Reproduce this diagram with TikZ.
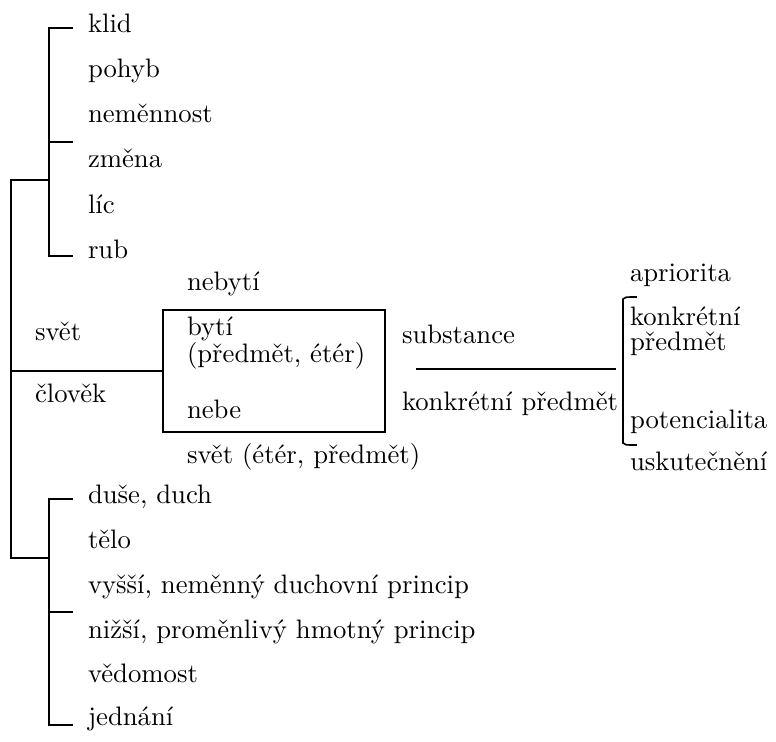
\documentclass[tikz,border=0pt]{standalone}
\usepackage{fontspec}
\begin{document}
\begin{tikzpicture}[x=0.3745pt,y=-0.3745pt,line width=0.6pt,
  lbl/.style={anchor=base west,inner sep=0pt,outer sep=0pt,font=\fontsize{10}{12}\selectfont},
  ln/.style={line width=0.6pt,line cap=rect},
  boxnode/.style={draw,line width=0.6pt,minimum width=83.14pt,minimum height=45.69pt,inner sep=0pt}]
\useasboundingbox (0,0) rectangle (776,741);
% top group
\node[lbl] (klid) at (88,32) {klid};
\node[lbl] (pohyb) at (88,77) {pohyb};
\node[lbl] (nemennost) at (88,122) {neměnnost};
\node[lbl] (zmena) at (88,167) {změna};
\node[lbl] (lic) at (88,213) {líc};
\node[lbl] (rub) at (88,258) {rub};
% middle
\node[lbl] (nebyti) at (187,290) {nebytí};
\node[boxnode] (box) at (274,371) {};
\node[lbl] (byti) at (187,335) {bytí};
\node[lbl] (predmeteter) at (187,362) {(předmět, étér)};
\node[lbl] (nebe) at (187,418) {nebe};
\node[lbl] (svetetor) at (187,463) {svět (étér, předmět)};
\node[lbl] (svet) at (35,340) {svět};
\node[lbl] (clovek) at (35,402) {člověk};
% right
\node[lbl] (substance) at (402,343) {substance};
\node[lbl] (konkpred) at (402,410) {konkrétní předmět};
\node[lbl] (apriorita) at (630,281) {apriorita};
\node[lbl] (konkretni) at (630,325) {konkrétní};
\node[lbl] (predmet) at (630,350) {předmět};
\node[lbl] (potencialita) at (630,428) {potencialita};
\node[lbl] (uskutecneni) at (630,470) {uskutečnění};
% bottom group
\node[lbl] (duse) at (88,503) {duše, duch};
\node[lbl] (telo) at (88,548) {tělo};
\node[lbl] (vyssi) at (88,593) {vyšší, neměnný duchovní princip};
\node[lbl] (nizsi) at (88,638) {nižší, proměnlivý hmotný princip};
\node[lbl] (vedomost) at (88,682) {vědomost};
\node[lbl] (jednani) at (88,725) {jednání};
% coordinates
\coordinate (t1) at (49,28); \coordinate (t1e) at (72,28);
\coordinate (t2) at (49,142); \coordinate (t2e) at (72,142);
\coordinate (t3) at (49,256); \coordinate (t3e) at (72,256);
\coordinate (m1) at (49,180); \coordinate (m0) at (11,180);
\coordinate (m2) at (11,558); \coordinate (m3) at (49,558);
\coordinate (mm) at (11,371);
\coordinate (b1) at (49,499); \coordinate (b1e) at (72,499);
\coordinate (b2) at (49,612); \coordinate (b2e) at (72,612);
\coordinate (b3) at (49,725); \coordinate (b3e) at (72,725);
\coordinate (s1) at (417,369); \coordinate (s2) at (615,369);
\coordinate (r0) at (636,297); \coordinate (r1) at (623,299);
\coordinate (r2) at (623,443); \coordinate (r3) at (636,445);
% lines
\draw[ln] (t1e) -- (t1) -- (t3) -- (t3e);
\draw[ln] (t2) -- (t2e);
\draw[ln] (m1) -- (m0) -- (m2) -- (m3);
\draw[ln] (mm) -- (box.west);
\draw[ln] (b1e) -- (b1) -- (b3) -- (b3e);
\draw[ln] (b2) -- (b2e);
\draw[ln] (s1) -- (s2);
\draw[ln] (r0) .. controls (625,297) .. (r1) -- (r2) .. controls (625,445) .. (r3);
\end{tikzpicture}
\end{document}
